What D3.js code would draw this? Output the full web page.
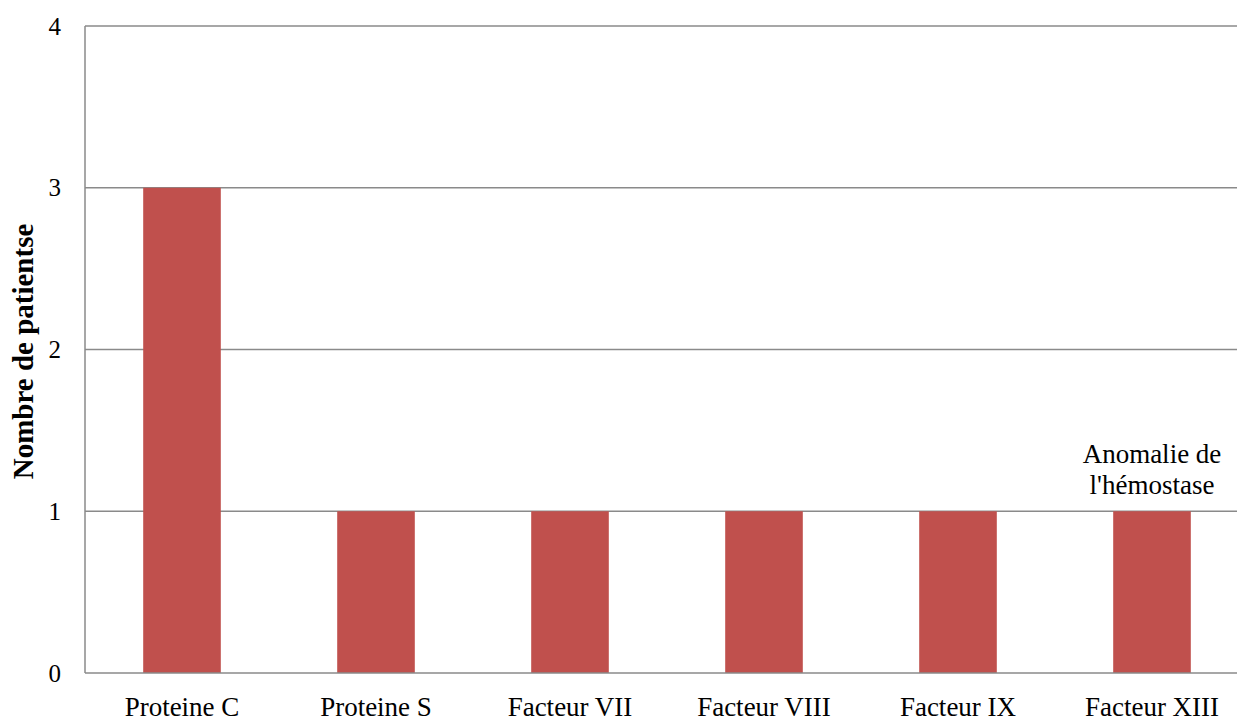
<!DOCTYPE html>
<html>
<head>
<meta charset="utf-8">
<script src="https://cdn.jsdelivr.net/npm/d3@7"></script>
<style>
  html, body { margin: 0; padding: 0; background: #fff; }
  svg { display: block; font-family: "Liberation Serif", "Times New Roman", serif; }
</style>
</head>
<body>
<svg id="chart" width="1237" height="722"></svg>
<script>
// Number of patients per haemostasis anomaly
const categories = ["Proteine C", "Proteine S", "Facteur VII", "Facteur VIII", "Facteur IX", "Facteur XIII"];
const patients = [3, 1, 1, 1, 1, 1];
const yTicks = [0, 1, 2, 3, 4];
const seriesName = ["Anomalie de", "l'hémostase"];
const yTitle = "Nombre de patientse";

const svg = d3.select("#chart");
const plotLeft = 85, plotTop = 26, plotBottom = 673, plotRight = 1249;

const x = d3.scaleBand()
  .domain(categories)
  .range([plotLeft, plotRight])
  .paddingInner(0.6)
  .paddingOuter(0.3);

const y = d3.scaleLinear().domain([0, 4]).range([plotBottom, plotTop]);

const gridColor = "#8a8a8a";

// horizontal gridlines
svg.append("g").selectAll("line")
  .data(yTicks.filter(d => d > 0))
  .join("line")
  .attr("x1", plotLeft).attr("x2", 1237)
  .attr("y1", d => y(d)).attr("y2", d => y(d))
  .attr("stroke", gridColor).attr("stroke-width", 1.5);

// bars
svg.append("g").selectAll("rect")
  .data(categories.map((c, i) => ({ c, v: patients[i] })))
  .join("rect")
  .attr("x", d => x(d.c))
  .attr("y", d => y(d.v))
  .attr("width", x.bandwidth())
  .attr("height", d => y(0) - y(d.v))
  .attr("fill", "#C0504D");

// axis lines
svg.append("line")
  .attr("x1", plotLeft).attr("x2", plotLeft)
  .attr("y1", plotTop).attr("y2", plotBottom)
  .attr("stroke", gridColor).attr("stroke-width", 1.5);
svg.append("line")
  .attr("x1", plotLeft).attr("x2", 1237)
  .attr("y1", plotBottom).attr("y2", plotBottom)
  .attr("stroke", gridColor).attr("stroke-width", 1.5);

// y tick labels
svg.append("g").selectAll("text")
  .data(yTicks)
  .join("text")
  .attr("x", 61)
  .attr("y", d => y(d))
  .attr("dy", "0.34em")
  .attr("text-anchor", "end")
  .attr("font-size", 25)
  .attr("fill", "#000")
  .text(d => d);

// category labels
svg.append("g").selectAll("text")
  .data(categories)
  .join("text")
  .attr("x", d => x(d) + x.bandwidth() / 2)
  .attr("y", 716)
  .attr("text-anchor", "middle")
  .attr("font-size", 27)
  .attr("fill", "#000")
  .text(d => d);

// y axis title
svg.append("text")
  .attr("transform", `translate(33, ${(plotTop + plotBottom) / 2 + 2}) rotate(-90)`)
  .attr("text-anchor", "middle")
  .attr("font-size", 29)
  .attr("font-weight", "bold")
  .attr("fill", "#000")
  .text(yTitle);

// series label above the last bar
const lastCat = categories[categories.length - 1];
svg.append("g").selectAll("text")
  .data(seriesName)
  .join("text")
  .attr("x", x(lastCat) + x.bandwidth() / 2)
  .attr("y", (d, i) => 463 + i * 31)
  .attr("text-anchor", "middle")
  .attr("font-size", 27)
  .attr("fill", "#000")
  .text(d => d);
</script>
</body>
</html>
